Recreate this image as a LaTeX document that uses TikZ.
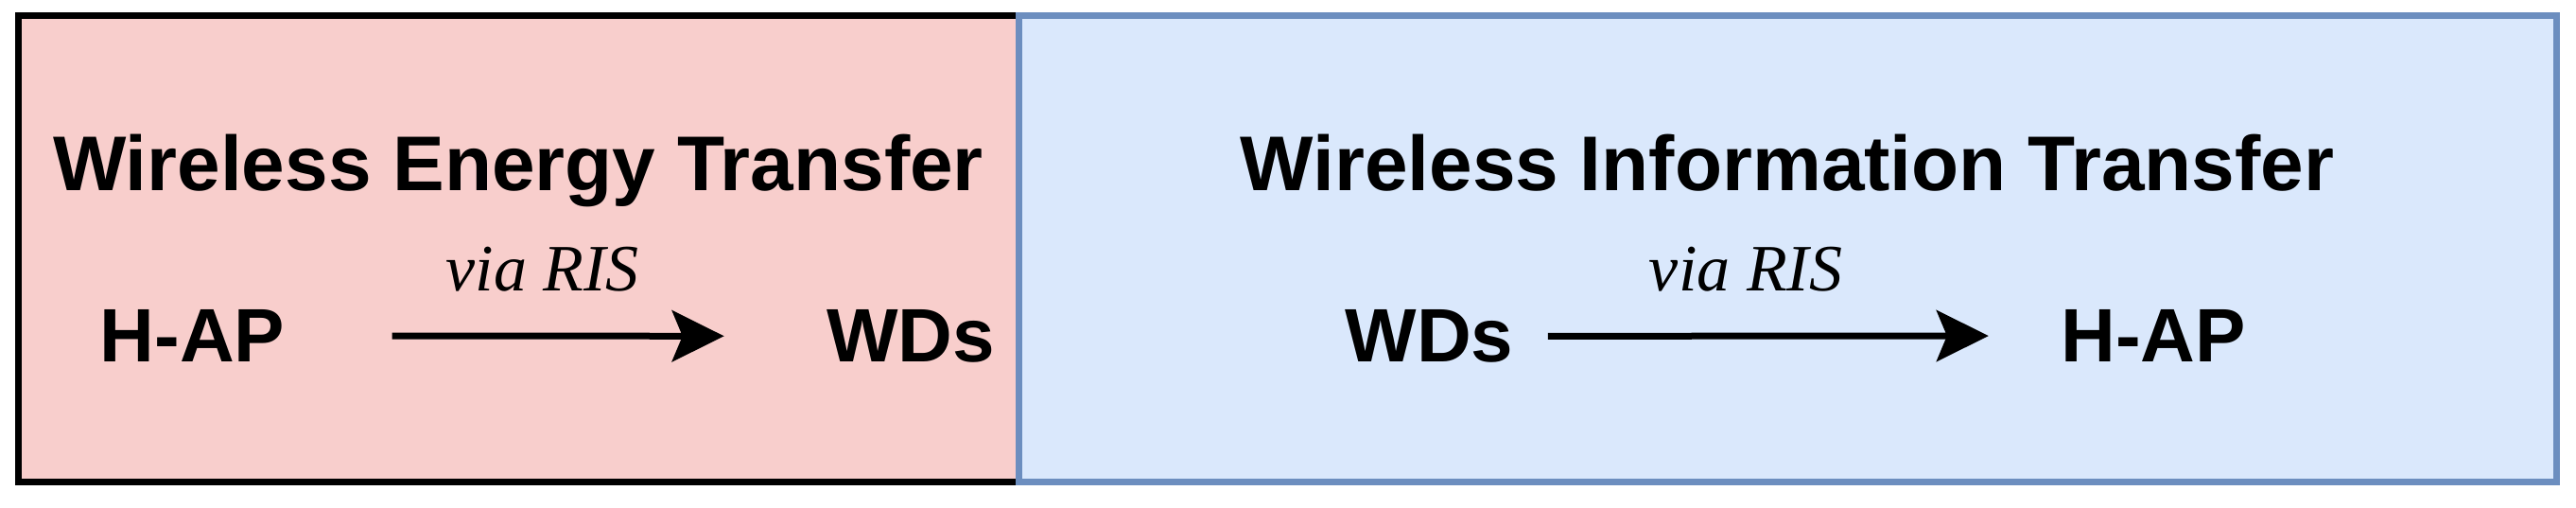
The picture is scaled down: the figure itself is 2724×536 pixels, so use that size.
\documentclass[tikz,border=0pt]{standalone}
\usepackage{fontspec}
\setmainfont{Liberation Serif}
\setsansfont{Liberation Sans}
\usetikzlibrary{arrows.meta}
\definecolor{pinkfill}{HTML}{F8CECC}
\definecolor{bluefill}{HTML}{DAE8FC}
\definecolor{bluedraw}{HTML}{6C8EBF}
\begin{document}
\begin{tikzpicture}[x=0.5pt,y=-0.5pt,
  panel/.style={line width=3.5pt},
  title/.style={font=\sffamily\bfseries\fontsize{41}{49}\selectfont, inner sep=0pt, anchor=base},
  party/.style={font=\sffamily\bfseries\fontsize{40}{48}\selectfont, inner sep=0pt, anchor=base},
  via/.style={font=\rmfamily\itshape\fontsize{35}{42}\selectfont, inner sep=0pt, anchor=base},
  flow/.style={line width=3.5pt, -{Stealth[length=27.5pt, width=27pt, inset=5.5pt]}}]
\useasboundingbox (0,0) rectangle (2724,536);
\draw[panel, fill=pinkfill, draw=black] (19.5,16.5) rectangle (1077,509.5);
\draw[panel, fill=bluefill, draw=bluedraw] (1077,16.5) rectangle (2703.5,509.5);
\node[title] (wet) at (548,201) {Wireless Energy Transfer};
\node[title] (wit) at (1890,201) {Wireless Information Transfer};
\node[party] (hapL) at (203.5,382.5) {H-AP};
\node[party] (wdsL) at (963,382.5) {WDs};
\node[party] (wdsR) at (1511.5,382.5) {WDs};
\node[party] (hapR) at (2277,382.5) {H-AP};
\node[via] (viaL) at (573.5,307) {via RIS};
\node[via] (viaR) at (1846,307) {via RIS};
\draw[flow, shorten <=56.5pt, shorten >=54pt] (hapL.east) -- (wdsL.west);
\draw[flow, shorten <=18pt, shorten >=38pt] (wdsR.east) -- (hapR.west);
\end{tikzpicture}
\end{document}
